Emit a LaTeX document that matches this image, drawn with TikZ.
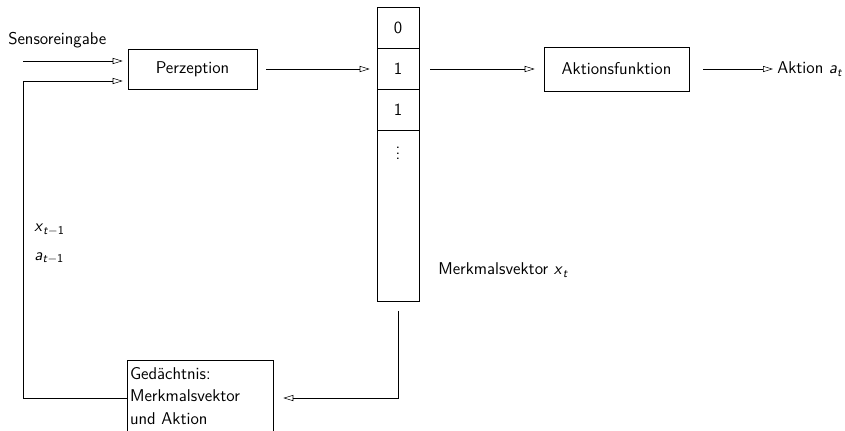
\documentclass[tikz,border=0pt]{standalone}
\usetikzlibrary{arrows.meta}

\tikzset{
	box/.style={draw, rectangle, inner sep=0.75pt},
	cell/.style={draw, rectangle, minimum width=31.5pt, minimum height=30.75pt, inner sep=0pt},
	arr/.style={-{Triangle[open,length=7.5pt,width=4.5pt]}},
	lbl/.style={inner sep=0.75pt}
}

\begin{document}
\begin{tikzpicture}[x=0.75pt,y=0.75pt,yscale=-1,xscale=1,font=\sffamily\fontsize{12.8}{17}\selectfont]
	\useasboundingbox (0,0) rectangle (845,430);
	% Eingabe und Wahrnehmung
	\draw (192.5,69) node [box, minimum width=96.75pt, minimum height=30pt] (perz) {Perzeption};
	\draw (7,44) node [anchor=base west][lbl] (sens) {Sensoreingabe};
	\coordinate (sin) at (23,61);
	\coordinate (fin) at (23,81);
	% Merkmalsvektor
	\draw (398,28) node [cell] (c0) {0};
	\draw (398,69) node [cell] (c1) {1};
	\draw (398,110) node [cell] (c2) {1};
	\draw (398,216) node [cell, minimum height=128.25pt, text height=15pt, text depth=100pt] (c3) {$\vdots$};
	\draw (437,270) node [anchor=west][lbl] (mv) {Merkmalsvektor \textit{x}\textsubscript{\textit{t}}};
	% Aktion
	\draw (616.5,69) node [box, minimum width=108.75pt, minimum height=33pt] (akt) {Aktionsfunktion};
	\draw (776,69) node [anchor=west][lbl] (aus) {Aktion \textit{a}\textsubscript{\textit{t}}};
	% Gedaechtnis
	\draw (200,396) node [box, minimum width=109.5pt, minimum height=54pt, align=left, text width=105pt, inner sep=2pt] (mem) {Gedächtnis:\\Merkmalsvektor\\und Aktion};
	\draw (33,230) node [anchor=west][lbl] (xl) {\textit{x}\textsubscript{\textit{t}$-$1}};
	\draw (33,258) node [anchor=west][lbl] (al) {\textit{a}\textsubscript{\textit{t}$-$1}};
	\coordinate (down) at (398,398);
	\coordinate (back) at (23,398);
	% Verbindungen
	\draw [arr, shorten >=3.75pt] (sin) -- (sin -| perz.west);
	\draw [arr, shorten >=3.75pt] (mem.west |- back) -- (back) -- (fin) -- (fin -| perz.west);
	\draw [arr, shorten <=6.75pt, shorten >=5.25pt] (perz.east) -- (c1.west);
	\draw [arr, shorten <=8.25pt, shorten >=6.75pt] (c1.east) -- (akt.west);
	\draw [arr, shorten <=10.5pt, shorten >=2.25pt] (akt.east) -- (aus.west);
	\draw [arr, shorten <=6.75pt, shorten >=7.5pt] (c3.south) -- (down) -- (mem.east |- down);
\end{tikzpicture}
\end{document}
